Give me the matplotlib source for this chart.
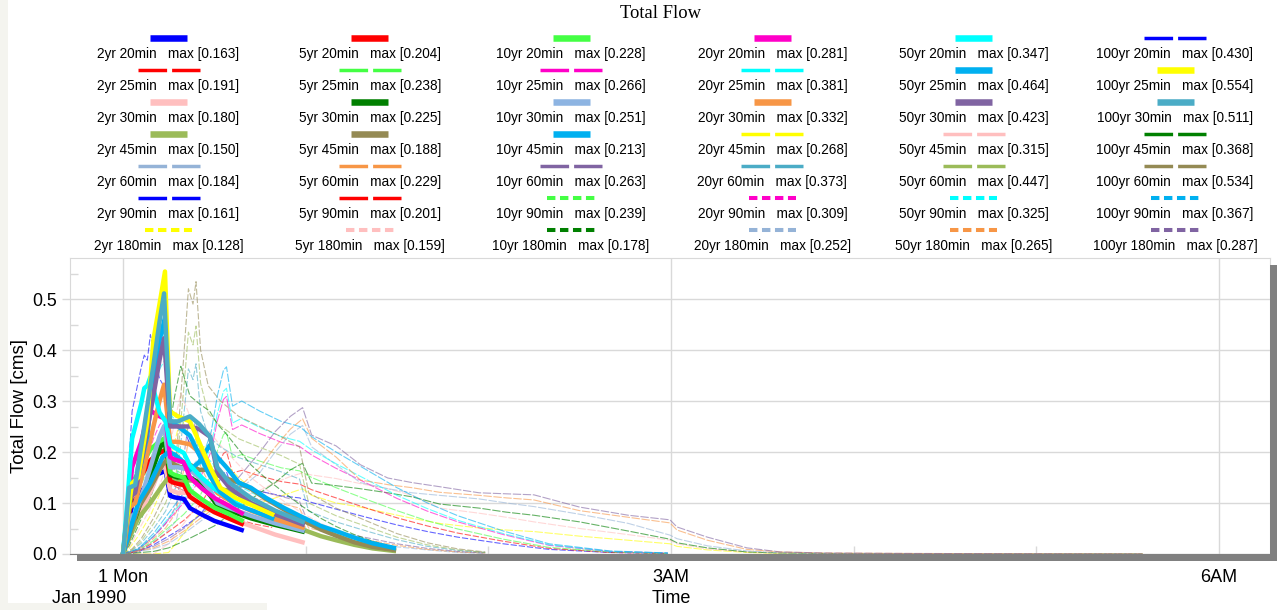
"""
Total Flow hydrographs: 6 return periods x 7 storm durations.
Values read off the HEC screenshot by eye (minutes from 1 Mon 00:00, cms).
"""
import matplotlib
matplotlib.use("Agg")
import matplotlib.pyplot as plt
from matplotlib.lines import Line2D
from matplotlib.patches import Rectangle
from matplotlib.ticker import FixedLocator

plt.rcParams["font.family"] = ["Liberation Sans", "DejaVu Sans"]
plt.rcParams["lines.scale_dashes"] = False

W, H = 1277, 610

PERIODS = ["2yr", "5yr", "10yr", "20yr", "50yr", "100yr"]
DURATIONS = ["20min", "25min", "30min", "45min", "60min", "90min", "180min"]

# label maxima, rows = durations, cols = periods
MAXES = {
    "20min":  [0.163, 0.204, 0.228, 0.281, 0.347, 0.430],
    "25min":  [0.191, 0.238, 0.266, 0.381, 0.464, 0.554],
    "30min":  [0.180, 0.225, 0.251, 0.332, 0.423, 0.511],
    "45min":  [0.150, 0.188, 0.213, 0.268, 0.315, 0.368],
    "60min":  [0.184, 0.229, 0.263, 0.373, 0.447, 0.534],
    "90min":  [0.161, 0.201, 0.239, 0.309, 0.325, 0.367],
    "180min": [0.128, 0.159, 0.178, 0.252, 0.265, 0.287],
}

COLORS = {
    "20min":  ["#0000ff", "#ff0000", "#44ff44", "#ff00c8", "#00ffff", "#0000ff"],
    "25min":  ["#ff0000", "#44ff44", "#ff00c8", "#00ffff", "#00b0f0", "#ffff00"],
    "30min":  ["#ffbfbf", "#008000", "#8db4e2", "#f79646", "#8064a2", "#4bacc6"],
    "45min":  ["#9bbb59", "#948a54", "#00b0f0", "#ffff00", "#ffbfbf", "#008000"],
    "60min":  ["#95b3d7", "#f79646", "#8064a2", "#4bacc6", "#9bbb59", "#948a54"],
    "90min":  ["#0000ff", "#ff0000", "#44ff44", "#ff00c8", "#00ffff", "#00b0f0"],
    "180min": ["#ffff00", "#ffbfbf", "#008000", "#95b3d7", "#f79646", "#8064a2"],
}
# T = thick solid, D = dashed, P = dotted
KINDS = {
    "20min": "TTTTTD", "25min": "DDDDTT", "30min": "TTTTTT", "45min": "TTTDDD",
    "60min": "DDDDDD", "90min": "DDPPPP", "180min": "PPPPPP",
}

# --- data ---
T20 = [0, 1, 3, 6, 7, 8, 9, 12, 14, 15.5, 17, 20, 22, 26, 30, 35, 39]
Q20 = {
    "2yr":   [0, 0.024, 0.098, 0.122, 0.130, 0.138, 0.147, 0.158, 0.163, 0.114, 0.111, 0.108, 0.090, 0.077, 0.065, 0.055, 0.047],
    "5yr":   [0, 0.031, 0.122, 0.153, 0.163, 0.173, 0.184, 0.198, 0.204, 0.143, 0.139, 0.135, 0.112, 0.096, 0.082, 0.069, 0.059],
    "10yr":  [0, 0.034, 0.137, 0.171, 0.182, 0.194, 0.205, 0.221, 0.228, 0.160, 0.155, 0.150, 0.125, 0.107, 0.091, 0.078, 0.066],
    "20yr":  [0, 0.045, 0.170, 0.220, 0.245, 0.260, 0.281, 0.270, 0.265, 0.190, 0.185, 0.180, 0.150, 0.128, 0.110, 0.094, 0.080],
    "50yr":  [0, 0.069, 0.226, 0.295, 0.325, 0.330, 0.347, 0.278, 0.260, 0.215, 0.208, 0.198, 0.174, 0.149, 0.128, 0.108, 0.094],
    "100yr": [0, 0.086, 0.280, 0.366, 0.390, 0.380, 0.430, 0.344, 0.323, 0.267, 0.258, 0.245, 0.215, 0.185, 0.159, 0.133, 0.116],
}

T25 = [0, 1, 3, 5, 8, 10, 12, 13.8, 15.4, 18, 22, 25, 28.6, 32, 37, 43, 49]
Q25 = {
    "2yr":   [0, 0.019, 0.067, 0.096, 0.134, 0.162, 0.181, 0.191, 0.138, 0.130, 0.118, 0.105, 0.092, 0.080, 0.069, 0.059, 0.052],
    "5yr":   [0, 0.024, 0.083, 0.119, 0.167, 0.202, 0.226, 0.238, 0.171, 0.162, 0.148, 0.131, 0.114, 0.100, 0.086, 0.074, 0.064],
    "10yr":  [0, 0.027, 0.093, 0.133, 0.186, 0.226, 0.253, 0.266, 0.192, 0.181, 0.165, 0.146, 0.128, 0.112, 0.096, 0.082, 0.072],
    "20yr":  [0, 0.038, 0.133, 0.190, 0.267, 0.324, 0.362, 0.381, 0.274, 0.259, 0.236, 0.210, 0.183, 0.160, 0.137, 0.118, 0.103],
    "50yr":  [0, 0.056, 0.139, 0.153, 0.232, 0.348, 0.418, 0.464, 0.260, 0.251, 0.232, 0.195, 0.153, 0.121, 0.097, 0.084, 0.070],
    "100yr": [0, 0.055, 0.139, 0.150, 0.260, 0.420, 0.490, 0.554, 0.280, 0.270, 0.260, 0.220, 0.170, 0.130, 0.110, 0.094, 0.078],
}

T30 = [0, 1, 2, 4, 7, 10, 12, 13.5, 15.5, 18, 22, 25, 28.6, 31, 35, 42, 50, 59]
Q30 = {
    "2yr":   [0, 0.020, 0.050, 0.060, 0.095, 0.135, 0.165, 0.180, 0.125, 0.120, 0.120, 0.110, 0.095, 0.080, 0.070, 0.055, 0.038, 0.023],
    "5yr":   [0, 0.025, 0.060, 0.070, 0.120, 0.170, 0.205, 0.225, 0.155, 0.150, 0.150, 0.140, 0.115, 0.095, 0.085, 0.070, 0.057, 0.044],
    "10yr":  [0, 0.030, 0.070, 0.080, 0.130, 0.190, 0.230, 0.251, 0.170, 0.170, 0.165, 0.150, 0.125, 0.100, 0.090, 0.075, 0.060, 0.046],
    "20yr":  [0, 0.040, 0.090, 0.100, 0.170, 0.250, 0.300, 0.332, 0.220, 0.220, 0.215, 0.200, 0.160, 0.120, 0.105, 0.085, 0.068, 0.052],
    "50yr":  [0, 0.050, 0.110, 0.120, 0.210, 0.310, 0.380, 0.423, 0.250, 0.250, 0.250, 0.245, 0.230, 0.160, 0.130, 0.100, 0.078, 0.058],
    "100yr": [0, 0.060, 0.130, 0.135, 0.250, 0.370, 0.455, 0.511, 0.260, 0.260, 0.270, 0.255, 0.230, 0.170, 0.140, 0.110, 0.085, 0.063],
}

T45 = [0, 2, 5, 9, 13, 15, 17, 19, 22, 25, 28.5, 31, 34, 38, 42, 47, 53, 59, 65, 70, 76, 82, 89]
Q45 = {
    "2yr":   [0, 0.030, 0.070, 0.100, 0.135, 0.150, 0.145, 0.140, 0.145, 0.140, 0.130, 0.128, 0.125, 0.118, 0.100, 0.085, 0.064, 0.048, 0.035, 0.027, 0.018, 0.011, 0.006],
    "5yr":   [0, 0.035, 0.090, 0.130, 0.175, 0.188, 0.175, 0.170, 0.175, 0.165, 0.165, 0.155, 0.148, 0.140, 0.128, 0.108, 0.087, 0.066, 0.048, 0.036, 0.023, 0.014, 0.008],
    "10yr":  [0, 0.040, 0.100, 0.140, 0.190, 0.200, 0.195, 0.185, 0.165, 0.180, 0.213, 0.190, 0.170, 0.140, 0.130, 0.110, 0.090, 0.072, 0.055, 0.045, 0.032, 0.021, 0.012],
    "20yr":  [0, 0.010, 0.035, 0.075, 0.130, 0.170, 0.220, 0.268, 0.230, 0.215, 0.205, 0.190, 0.175, 0.150, 0.130, 0.110, 0.090, 0.070, 0.052, 0.040, 0.028, 0.018, 0.010],
    "50yr":  [0, 0.013, 0.045, 0.090, 0.150, 0.200, 0.260, 0.315, 0.270, 0.255, 0.240, 0.220, 0.200, 0.175, 0.150, 0.127, 0.103, 0.080, 0.060, 0.046, 0.032, 0.021, 0.012],
    "100yr": [0, 0.016, 0.055, 0.110, 0.180, 0.240, 0.310, 0.368, 0.310, 0.295, 0.280, 0.255, 0.235, 0.205, 0.175, 0.148, 0.120, 0.093, 0.070, 0.054, 0.038, 0.025, 0.014],
}

T60 = [0, 3, 6, 10, 14, 17.5, 20, 21.5, 23, 24, 25.5, 28, 32, 38, 45, 52, 58, 61, 70, 80, 90, 100, 110, 119]
Q60 = {
    "2yr":   [0, 0.003, 0.010, 0.024, 0.041, 0.065, 0.134, 0.179, 0.169, 0.184, 0.138, 0.114, 0.103, 0.093, 0.086, 0.079, 0.072, 0.041, 0.031, 0.022, 0.014, 0.008, 0.003, 0.001],
    "5yr":   [0, 0.004, 0.013, 0.030, 0.051, 0.082, 0.167, 0.223, 0.210, 0.229, 0.172, 0.142, 0.129, 0.116, 0.107, 0.099, 0.090, 0.051, 0.039, 0.028, 0.017, 0.009, 0.004, 0.002],
    "10yr":  [0, 0.005, 0.015, 0.034, 0.059, 0.094, 0.192, 0.256, 0.241, 0.263, 0.197, 0.163, 0.148, 0.133, 0.123, 0.113, 0.103, 0.059, 0.044, 0.032, 0.020, 0.011, 0.005, 0.002],
    "20yr":  [0, 0.007, 0.021, 0.049, 0.084, 0.133, 0.273, 0.363, 0.342, 0.373, 0.280, 0.231, 0.210, 0.189, 0.175, 0.161, 0.147, 0.084, 0.063, 0.045, 0.028, 0.015, 0.007, 0.003],
    "50yr":  [0, 0.008, 0.025, 0.059, 0.100, 0.159, 0.326, 0.435, 0.410, 0.447, 0.335, 0.276, 0.251, 0.226, 0.209, 0.193, 0.176, 0.100, 0.075, 0.054, 0.033, 0.018, 0.008, 0.003],
    "100yr": [0, 0.010, 0.030, 0.070, 0.120, 0.190, 0.390, 0.520, 0.490, 0.534, 0.400, 0.330, 0.300, 0.270, 0.250, 0.230, 0.210, 0.120, 0.090, 0.065, 0.040, 0.022, 0.010, 0.004],
}

T90 = [0, 5, 10, 15, 20, 25, 29, 31, 33, 34, 36, 39, 45, 52, 58, 62, 70, 80, 90, 100, 110, 125, 140, 160, 179]
Q90 = {
    "2yr":   [0, 0.004, 0.018, 0.035, 0.053, 0.075, 0.105, 0.136, 0.158, 0.161, 0.127, 0.132, 0.123, 0.114, 0.110, 0.101, 0.088, 0.072, 0.057, 0.044, 0.033, 0.020, 0.009, 0.003, 0.001],
    "5yr":   [0, 0.005, 0.022, 0.044, 0.066, 0.093, 0.132, 0.170, 0.197, 0.201, 0.159, 0.164, 0.153, 0.142, 0.137, 0.126, 0.110, 0.090, 0.071, 0.055, 0.041, 0.025, 0.011, 0.003, 0.001],
    "10yr":  [0, 0.007, 0.026, 0.052, 0.078, 0.111, 0.156, 0.202, 0.234, 0.239, 0.189, 0.195, 0.182, 0.169, 0.163, 0.150, 0.130, 0.107, 0.085, 0.065, 0.049, 0.029, 0.013, 0.004, 0.001],
    "20yr":  [0, 0.008, 0.034, 0.067, 0.101, 0.143, 0.202, 0.261, 0.303, 0.309, 0.244, 0.253, 0.236, 0.219, 0.211, 0.194, 0.168, 0.139, 0.109, 0.084, 0.063, 0.038, 0.017, 0.005, 0.002],
    "50yr":  [0, 0.009, 0.035, 0.071, 0.106, 0.151, 0.213, 0.275, 0.319, 0.325, 0.257, 0.266, 0.248, 0.230, 0.221, 0.204, 0.177, 0.146, 0.115, 0.089, 0.066, 0.040, 0.018, 0.005, 0.002],
    "100yr": [0, 0.010, 0.040, 0.080, 0.120, 0.170, 0.240, 0.310, 0.360, 0.367, 0.290, 0.300, 0.280, 0.260, 0.250, 0.230, 0.200, 0.165, 0.130, 0.100, 0.075, 0.045, 0.020, 0.006, 0.002],
}

T180 = [0, 10, 15, 20, 25, 30, 38, 45, 50, 55, 59, 62, 70, 78, 87, 95, 104, 117, 126, 135,
        150, 166, 179.7, 182, 192, 205, 216, 230, 260, 300, 335]
Q180 = {
    "2yr":   [0, 0, 0.003, 0.040, 0.080, 0.088, 0.092, 0.100, 0.110, 0.120, 0.128, 0.115, 0.100, 0.092, 0.080, 0.070, 0.060, 0.051, 0.047, 0.044,
              0.035, 0.027, 0.020, 0.015, 0.008, 0.003, 0.001, 0.0005, 0, 0, 0],
    "5yr":   [0, 0, 0.020, 0.060, 0.100, 0.105, 0.110, 0.125, 0.140, 0.152, 0.159, 0.155, 0.148, 0.138, 0.128, 0.115, 0.090, 0.080, 0.072, 0.063,
              0.050, 0.038, 0.027, 0.020, 0.010, 0.004, 0.002, 0.001, 0, 0, 0],
    "10yr":  [0, 0.005, 0.012, 0.025, 0.040, 0.055, 0.090, 0.120, 0.140, 0.165, 0.178, 0.139, 0.134, 0.128, 0.120, 0.112, 0.098, 0.090, 0.082, 0.076,
              0.063, 0.045, 0.029, 0.022, 0.012, 0.004, 0.002, 0.001, 0, 0, 0],
    "20yr":  [0, 0.010, 0.020, 0.040, 0.062, 0.085, 0.125, 0.160, 0.200, 0.235, 0.252, 0.210, 0.175, 0.140, 0.128, 0.120, 0.115, 0.108, 0.100, 0.093,
              0.078, 0.060, 0.037, 0.030, 0.016, 0.006, 0.002, 0.001, 0.0005, 0, 0],
    "50yr":  [0, 0.012, 0.025, 0.045, 0.068, 0.090, 0.130, 0.170, 0.210, 0.245, 0.265, 0.227, 0.190, 0.145, 0.136, 0.130, 0.121, 0.115, 0.110, 0.106,
              0.085, 0.072, 0.061, 0.047, 0.027, 0.009, 0.004, 0.002, 0.001, 0.0005, 0],
    "100yr": [0, 0.015, 0.030, 0.050, 0.075, 0.100, 0.150, 0.200, 0.240, 0.270, 0.287, 0.233, 0.212, 0.175, 0.149, 0.140, 0.132, 0.120, 0.118, 0.116,
              0.092, 0.076, 0.067, 0.053, 0.033, 0.012, 0.004, 0.002, 0.001, 0.0005, 0],
}

TIMES = {"20min": T20, "25min": T25, "30min": T30, "45min": T45,
         "60min": T60, "90min": T90, "180min": T180}
FLOWS = {"20min": Q20, "25min": Q25, "30min": Q30, "45min": Q45,
         "60min": Q60, "90min": Q90, "180min": Q180}

X_TICKS = [0, 180, 360]
X_LABELS = ["1 Mon", "3AM", "6AM"]
Y_TICKS = [0.0, 0.1, 0.2, 0.3, 0.4, 0.5]

GRID = "#d9d9d9"

fig = plt.figure(figsize=(W / 100, H / 100), dpi=100)

def fx(px):
    return px / W

def fy(py):
    return 1 - py / H

# screenshot margins + 3D shadow of the plot frame
fig.add_artist(Rectangle((0, 0), fx(8), 1, transform=fig.transFigure,
                         color="#f4f4ef", lw=0, zorder=0))
fig.add_artist(Rectangle((0, 0), fx(267), 7 / H, transform=fig.transFigure,
                         color="#f4f4ef", lw=0, zorder=0))
fig.add_artist(Rectangle((fx(77), fy(561)), fx(1277 - 77), 7 / H,
                         transform=fig.transFigure, color="#808080", lw=0))
fig.add_artist(Rectangle((fx(1270), fy(561)), fx(7), (561 - 265) / H,
                         transform=fig.transFigure, color="#808080", lw=0))

ax = fig.add_axes([fx(70), fy(554), fx(1200), 296 / H])

for p_i, period in enumerate(PERIODS):
    for dur in DURATIONS:
        kind = KINDS[dur][p_i]
        col = COLORS[dur][p_i]
        t = TIMES[dur]
        q = FLOWS[dur][period]
        if kind == "T":
            ax.plot(t, q, color=col, lw=3.2, solid_joinstyle="round", zorder=3)
        elif kind == "D":
            ax.plot(t, q, color=col, lw=0.8, alpha=0.6, dashes=(4.5, 1.4), zorder=2)
        else:
            ax.plot(t, q, color=col, lw=0.8, alpha=0.6, dashes=(6, 1.2), zorder=2)

ax.set_xlim(-17.4, 376.8)
ax.set_ylim(0, 0.5804)

ax.xaxis.set_major_locator(FixedLocator(X_TICKS))
ax.set_xticklabels(X_LABELS, fontsize=13)
ax.xaxis.set_minor_locator(FixedLocator([60, 120, 240, 300]))
ax.set_yticks(Y_TICKS)
ax.set_yticklabels([f"{v:.1f}" for v in Y_TICKS], fontsize=12.8)
ax.yaxis.set_minor_locator(FixedLocator([0.05, 0.15, 0.25, 0.35, 0.45, 0.55]))

ax.tick_params(axis="x", which="major", length=0, pad=11)
ax.tick_params(axis="x", which="minor", direction="in", length=5.8, color=GRID, width=1)
ax.tick_params(axis="y", which="major", direction="out", length=5.8, color=GRID,
               width=1, pad=3.6)
ax.tick_params(axis="y", which="minor", direction="in", length=5.8, color=GRID, width=1)
ax.grid(True, which="major", color=GRID, lw=1)
ax.set_axisbelow(True)

for side in ("left", "top", "right"):
    ax.spines[side].set_color(GRID)
ax.spines["bottom"].set_color("#808080")

ax.set_ylabel("Total Flow [cms]", fontsize=13.5)
ax.yaxis.set_label_coords((28 - 70) / 1200, 0.5)
ax.set_xlabel("Time", fontsize=13)
ax.xaxis.label.set_va("center")
ax.xaxis.set_label_coords((671 - 70) / 1200, (554 - 598.5) / 296)
fig.text(fx(89), fy(598.5), "Jan 1990", fontsize=13, ha="center", va="center")

# title
fig.text(fx(661), fy(14), "Total Flow", fontsize=13.4, ha="center", va="center",
         family=["Liberation Serif", "DejaVu Serif"])

# legend: 6 columns (periods) x 7 rows (durations), sample above text
for r, dur in enumerate(DURATIONS):
    for c, period in enumerate(PERIODS):
        cx = 168.5 + 201.3 * c
        sy = 38 + 32 * r
        ty = 54 + 32 * r
        kind = KINDS[dur][c]
        col = COLORS[dur][c]
        if kind == "T":
            half, lw, kw = 18.5, 4.7, dict(solid_capstyle="butt")
        elif kind == "D":
            half, lw, kw = 31.0, 2.5, dict(dashes=(20.6, 3.6), dash_capstyle="butt")
        else:
            half, lw, kw = 23.7, 2.9, dict(dashes=(6.05, 3.3), dash_capstyle="butt")
        fig.add_artist(Line2D([fx(cx - half), fx(cx + half)], [fy(sy), fy(sy)],
                              transform=fig.transFigure, color=col, lw=lw, **kw))
        m = MAXES[dur][c]
        fig.text(fx(cx), fy(ty), f"{period} {dur}   max [{m:.3f}]", fontsize=9.8,
                 ha="center", va="center")

fig.savefig("out.png", dpi=100)
